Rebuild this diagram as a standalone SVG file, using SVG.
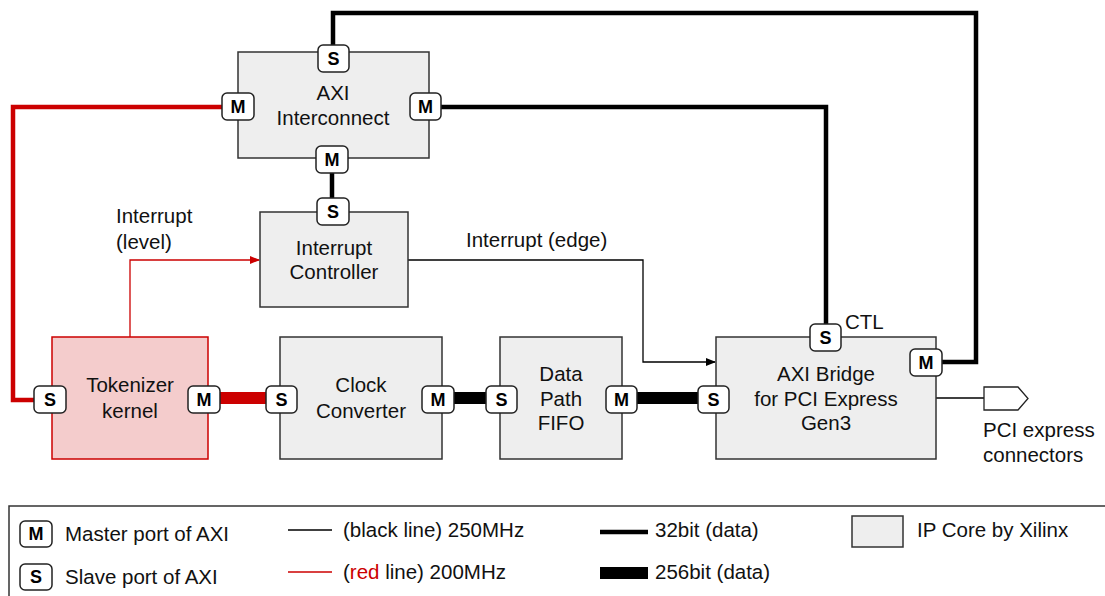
<svg xmlns="http://www.w3.org/2000/svg" width="1105" height="596" viewBox="0 0 1105 596">
<style>
text{font-family:"Liberation Sans",Arial,sans-serif;font-size:20.5px;fill:#111}
.c{text-anchor:middle}
.box{fill:#eeeeee;stroke:#333;stroke-width:1.5}
.tok{fill:#f4cccc;stroke:#cc0000;stroke-width:1.5}
.port{fill:#fff;stroke:#222;stroke-width:1.5}
.pl{font-weight:bold;font-size:18px;text-anchor:middle;fill:#000}
.thin{fill:none;stroke:#000;stroke-width:1.3}
.thinr{fill:none;stroke:#cc0000;stroke-width:1.3}
.w32{fill:none;stroke:#000;stroke-width:4.5}
.w32r{fill:none;stroke:#cc0000;stroke-width:4.5}
.w256{fill:none;stroke:#000;stroke-width:12}
.w256r{fill:none;stroke:#cc0000;stroke-width:12}
</style>
<defs>
<marker id="ab" markerWidth="10" markerHeight="8" refX="9" refY="4" orient="auto" markerUnits="userSpaceOnUse"><path d="M0,0 L10,4 L0,8 z" fill="#000"/></marker>
<marker id="ar" markerWidth="10" markerHeight="8" refX="9" refY="4" orient="auto" markerUnits="userSpaceOnUse"><path d="M0,0 L10,4 L0,8 z" fill="#cc0000"/></marker>
</defs>

<g id="connectors">
<path class="w32" d="M333,46 V13 H976 V362 H942"/>
<path class="w32" d="M441,107 H826 V324"/>
<path class="w32" d="M332,173 V199"/>
<path class="w32r" d="M222,107 H13 V400 H34"/>
<path class="w256r" d="M220,398 H266"/>
<path class="w256" d="M454,398 H486"/>
<path class="w256" d="M637,398 H698"/>
<path class="thinr" d="M130,337 V260 H259" marker-end="url(#ar)"/>
<path class="thin" d="M408,260 H643 V362 H715" marker-end="url(#ab)"/>
<path class="thin" d="M936,398 H984"/>
</g>

<g id="axi-interconnect">
<rect class="box" x="238" y="52" width="191" height="106"/>
<text class="c" x="333" y="100">AXI</text>
<text class="c" x="333" y="125">Interconnect</text>
<rect class="port" x="318" y="45" width="31" height="27" rx="5"/><text class="pl" x="333.5" y="65">S</text>
<rect class="port" x="222" y="93" width="32" height="27" rx="5"/><text class="pl" x="238" y="113">M</text>
<rect class="port" x="410" y="93" width="31" height="27" rx="5"/><text class="pl" x="425.5" y="113">M</text>
<rect class="port" x="316" y="146" width="32" height="27" rx="5"/><text class="pl" x="332" y="166">M</text>
</g>

<g id="interrupt-controller">
<rect class="box" x="260" y="212" width="148" height="95"/>
<text class="c" x="334" y="255">Interrupt</text>
<text class="c" x="334" y="279">Controller</text>
<rect class="port" x="317" y="198" width="32" height="27" rx="5"/><text class="pl" x="333" y="218">S</text>
</g>

<g id="tokenizer-kernel">
<rect class="tok" x="52" y="337" width="156" height="122"/>
<text class="c" x="130" y="392">Tokenizer</text>
<text class="c" x="130" y="418">kernel</text>
<rect class="port" x="34" y="386" width="32" height="27" rx="5"/><text class="pl" x="50" y="406">S</text>
<rect class="port" x="188" y="386" width="32" height="27" rx="5"/><text class="pl" x="204" y="406">M</text>
</g>

<g id="clock-converter">
<rect class="box" x="280" y="337" width="162" height="122"/>
<text class="c" x="361" y="392">Clock</text>
<text class="c" x="361" y="418">Converter</text>
<rect class="port" x="266" y="386" width="31" height="27" rx="5"/><text class="pl" x="281.5" y="406">S</text>
<rect class="port" x="422" y="386" width="32" height="27" rx="5"/><text class="pl" x="438" y="406">M</text>
</g>

<g id="data-path-fifo">
<rect class="box" x="500" y="337" width="122" height="122"/>
<text class="c" x="561" y="381">Data</text>
<text class="c" x="561" y="406">Path</text>
<text class="c" x="561" y="430">FIFO</text>
<rect class="port" x="486" y="386" width="31" height="27" rx="5"/><text class="pl" x="501.5" y="406">S</text>
<rect class="port" x="606" y="386" width="31" height="27" rx="5"/><text class="pl" x="621.5" y="406">M</text>
</g>

<g id="axi-bridge">
<rect class="box" x="716" y="337" width="220" height="122"/>
<text class="c" x="826" y="381">AXI Bridge</text>
<text class="c" x="826" y="406">for PCI Express</text>
<text class="c" x="826" y="430">Gen3</text>
<rect class="port" x="698" y="386" width="31" height="27" rx="5"/><text class="pl" x="713.5" y="406">S</text>
<rect class="port" x="810" y="324" width="31" height="27" rx="5"/><text class="pl" x="825.5" y="344">S</text>
<rect class="port" x="910" y="349" width="32" height="27" rx="5"/><text class="pl" x="926" y="369">M</text>
<text x="845" y="329">CTL</text>
</g>

<g id="pci-connector">
<path d="M984,387 H1018 L1028,398.5 L1018,410 H984 z" fill="#fff" stroke="#222" stroke-width="1.3"/>
<text x="983" y="437">PCI express</text>
<text x="983" y="462">connectors</text>
</g>

<g id="labels">
<text x="116" y="223">Interrupt</text>
<text x="116" y="249">(level)</text>
<text x="466" y="247">Interrupt (edge)</text>
</g>

<g id="legend">
<rect x="9" y="506" width="1110" height="110" fill="none" stroke="#333" stroke-width="1.5"/>
<rect class="port" x="20" y="521" width="32" height="26" rx="5"/><text class="pl" x="36" y="540">M</text>
<text x="65" y="541">Master port of AXI</text>
<rect class="port" x="20" y="564" width="32" height="26" rx="5"/><text class="pl" x="36" y="583">S</text>
<text x="65" y="584">Slave port of AXI</text>
<line x1="288" y1="530" x2="332" y2="530" stroke="#000" stroke-width="1.3"/>
<text x="343" y="537">(black line) 250MHz</text>
<line x1="288" y1="572" x2="332" y2="572" stroke="#cc0000" stroke-width="1.3"/>
<text x="343" y="579">(<tspan fill="#cc0000">red</tspan> line) 200MHz</text>
<line x1="600" y1="532" x2="648" y2="532" stroke="#000" stroke-width="4.5"/>
<text x="655" y="537">32bit (data)</text>
<line x1="600" y1="573" x2="648" y2="573" stroke="#000" stroke-width="12"/>
<text x="655" y="579">256bit (data)</text>
<rect class="box" x="852" y="516" width="51" height="31"/>
<text x="917" y="537">IP Core by Xilinx</text>
</g>
</svg>
